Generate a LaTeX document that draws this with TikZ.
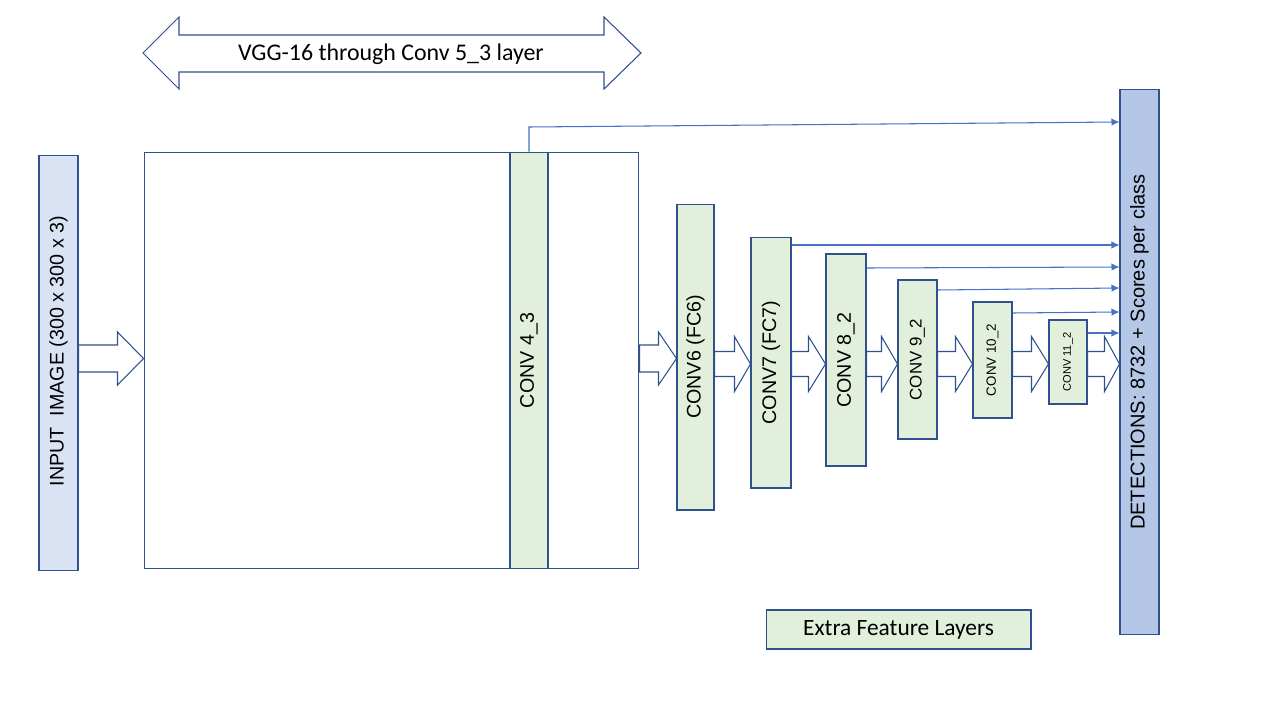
\documentclass[tikz,border=0pt]{standalone}
\usepackage{fontspec}
\usepackage{graphicx}
\setmainfont{Carlito}
\newfontfamily\arialf{Liberation Sans}
\usetikzlibrary{arrows.meta,calc}
\definecolor{edgeblue}{RGB}{47,82,143}
\definecolor{linkblue}{RGB}{68,114,196}
\definecolor{layergreen}{RGB}{226,239,218}
\definecolor{inblue}{RGB}{218,227,243}
\definecolor{detblue}{RGB}{180,199,231}
\tikzset{
  plainbox/.style={rectangle, draw=edgeblue, line width=0.6pt, fill=white,
    inner sep=0pt},
  layer/.style={plainbox, fill=layergreen, font=\arialf\fontsize{11.2}{13}\selectfont},
  inbox/.style={plainbox, fill=inblue},
  detbox/.style={plainbox, fill=detblue},
  lbl/.style={font=\arialf\fontsize{11.2}{13}\selectfont, inner sep=0pt},
  title/.style={font=\fontsize{13.6}{16}\selectfont, inner sep=0pt},
  blk/.style={draw=edgeblue, line width=0.6pt, fill=white, line join=miter},
  conn/.style={draw=linkblue, line width=0.6pt, -{Latex[length=1.6mm,width=1.5mm]}},
}
% block arrow: from, to, centre y, head length, body half, head half (px)
\newcommand{\blockar}[6]{%
  \path (#1.east |- 0,#3) coordinate (ba-s) (#2.west |- 0,#3) coordinate (ba-t);
  \draw[blk] ($(ba-s)+(0,-#5)$) -- ($(ba-t)+(-#4,-#5)$) -- ($(ba-t)+(-#4,-#6)$)
    -- (ba-t) -- ($(ba-t)+(-#4,#6)$) -- ($(ba-t)+(-#4,#5)$) -- ($(ba-s)+(0,#5)$) -- cycle;
}

\begin{document}
\begin{tikzpicture}[x=0.02cm, y=-0.02cm]
\useasboundingbox (0,0) rectangle (1280,720);

% ===================== VGG SPAN =====================
\draw[blk] (143,53) -- (179,17) -- (179,35) -- (604,35) -- (604,17) -- (641,53)
  -- (604,89) -- (604,72) -- (179,72) -- (179,89) -- cycle;
\node[title] (span) at (391,54) {VGG-16 through Conv 5\_3 layer};

% ===================== INPUT + BASE NETWORK =====================
\node[inbox, minimum width=0.78cm, minimum height=8.32cm] (inp) at (58.5,363) {};
\node[lbl] (inplbl) at (58.5,351) {\rotatebox{90}{INPUT\ \ IMAGE (300 x 300 x 3)}};

\node[plainbox, minimum width=9.9cm, minimum height=8.34cm] (vgg) at (391.5,360.5) {};
\node[layer, minimum width=0.76cm, minimum height=8.34cm] (c43) at (529,360.5)
  {\rotatebox{90}{CONV 4\_3}};

% ===================== EXTRA FEATURE LAYERS =====================
\node[layer, minimum width=0.74cm, minimum height=6.12cm] (c6) at (695.5,357)
  {\rotatebox{90}{CONV6 (FC6)}};
\node[layer, minimum width=0.8cm, minimum height=5.02cm] (c7) at (771,362.5)
  {\rotatebox{90}{CONV7 (FC7)}};
\node[layer, minimum width=0.8cm, minimum height=4.24cm] (c8) at (846,360)
  {\rotatebox{90}{CONV 8\_2}};
\node[layer, minimum width=0.78cm, minimum height=3.18cm,
  font=\arialf\fontsize{9.6}{11}\selectfont] (c9) at (917.5,359.5)
  {\rotatebox{90}{CONV 9\_2}};
\node[layer, minimum width=0.78cm, minimum height=2.32cm,
  font=\arialf\fontsize{7.6}{9}\selectfont] (c10) at (992.5,360)
  {\rotatebox{90}{CONV 10\_2}};
\node[layer, minimum width=0.76cm, minimum height=1.68cm,
  font=\arialf\fontsize{6.3}{8}\selectfont] (c11) at (1068,362)
  {\rotatebox{90}{CONV 11\_2}};

\node[detbox, minimum width=0.78cm, minimum height=10.92cm] (det) at (1139.5,362) {};
\node[lbl, font=\arialf\fontsize{11.4}{13}\selectfont] (detlbl) at (1139.5,352)
  {\rotatebox{90}{DETECTIONS: 8732 + Scores per class}};

\node[layer, minimum width=5.3cm, minimum height=0.78cm,
  font=\fontsize{13.3}{16}\selectfont] (extra) at (898.5,629.5) {Extra Feature Layers};

% ===================== BLOCK ARROWS =====================
\blockar{inp}{vgg}{358.5}{26}{13.5}{26.5}
\blockar{vgg}{c6}{358.5}{18}{13.5}{26.5}
\blockar{c6}{c7}{364}{16}{12.5}{27.5}
\blockar{c7}{c8}{364}{17}{12.5}{27.5}
\blockar{c8}{c9}{364}{16}{12.5}{27.5}
\blockar{c9}{c10}{364}{17}{12.5}{27.5}
\blockar{c10}{c11}{364}{17}{12.5}{27.5}
\blockar{c11}{det}{364}{15}{12.5}{27.5}

% ===================== DETECTION LINKS =====================
\draw[conn] (c43.north) -- (c43.north |- 0,127) -- (det.west |- 0,122);
\draw[conn] (c7.east |- 0,245) -- (det.west |- 0,245);
\draw[conn] (c8.east |- 0,268) -- (det.west |- 0,267);
\draw[conn] (c9.east |- 0,290) -- (det.west |- 0,288);
\draw[conn] (c10.east |- 0,313) -- (det.west |- 0,312);
\draw[conn] (c11.east |- 0,333) -- (det.west |- 0,333);

\end{tikzpicture}
\end{document}
